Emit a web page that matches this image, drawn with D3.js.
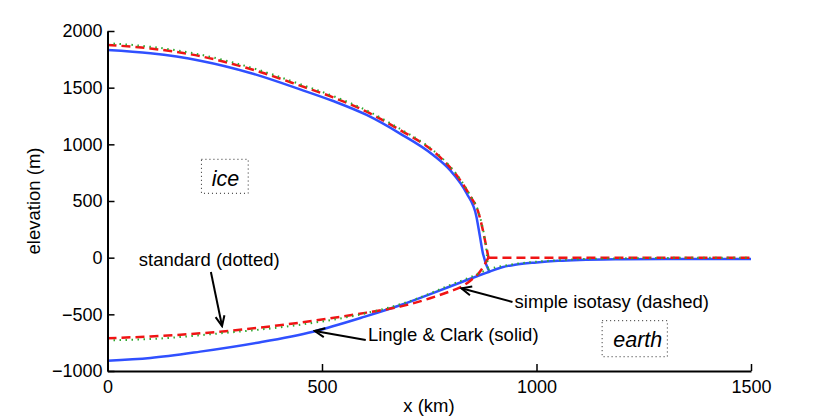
<!DOCTYPE html>
<html>
<head>
<meta charset="utf-8">
<script src="https://cdn.jsdelivr.net/npm/d3@7"></script>
<style>
body { margin: 0; background: #fff; }
text { font-family: "Liberation Sans", Arial, Helvetica, sans-serif; }
</style>
</head>
<body>
<script>
// Lingle & Clark (solid blue)
var lcSurfaceKm = [0, 100, 216, 333, 449, 526, 604, 681, 759, 798, 837, 860, 868, 875, 890]
var lcSurfaceM = [1832, 1803, 1738, 1630, 1485, 1382, 1259, 1097, 906, 774, 568, 362, 190, 40, -124]
var lcBedKm = [0, 100, 216, 350, 479, 600, 682, 760, 829, 890, 920, 950, 1000, 1050, 1100, 1200, 1300, 1500]
var lcBedM = [-909, -885, -829, -750, -653, -520, -420, -310, -210, -124, -85, -62, -42, -28, -20, -14, -12, -11]

// simple isotasy (dashed red)
var isoSurfaceKm = [0, 100, 216, 333, 449, 526, 604, 681, 759, 790, 821, 844, 864, 883, 888]
var isoSurfaceM = [1877, 1846, 1778, 1665, 1518, 1414, 1288, 1128, 940, 832, 690, 553, 406, 97, 0]
var isoBedKm = [0, 100, 262, 449, 604, 682, 752, 800, 822, 845, 868, 880, 888]
var isoBedM = [-711, -695, -653, -573, -485, -432, -358, -295, -262, -205, -124, -55, 0]
var isoFloatKm = [888, 1500]
var isoFloatM = [0, 0]

// standard (dotted green)
var stdSurfaceKm = [0, 100, 216, 333, 449, 526, 604, 681, 759, 790, 821, 844, 864, 880, 884, 887]
var stdSurfaceM = [1893, 1861, 1792, 1679, 1531, 1426, 1299, 1138, 948, 840, 698, 560, 412, 150, 40, -105]
var stdBedKm = [0, 100, 262, 449, 600, 700, 800, 850, 887, 945, 1000, 1100, 1200, 1300, 1500]
var stdBedM = [-730, -718, -668, -592, -492, -390, -240, -165, -105, -58, -36, -14, -6, -2, 0]

var xTicks = [0, 500, 1000, 1500]
var yTicks = [-1000, -500, 0, 500, 1000, 1500, 2000]

// annotations, in km / m
var noteTexts = ["standard (dotted)", "Lingle & Clark (solid)", "simple isotasy (dashed)"]
var noteKm = [73, 607, 949]
var noteM = [-74, -735, -444]
var arrowFromKm = [241, 602, 944]
var arrowFromM = [-126, -726, -391]
var arrowToKm = [267, 483, 825]
var arrowToM = [-603, -647, -270]

var regionTexts = ["ice", "earth"]
var regionKm = [275, 1236]
var regionM = [633, -785]
var regionBoxKm = [[219, 328], [1153, 1305]]
var regionBoxM = [[868, 568], [-556, -874]]

var w = 830
var h = 420

var xScale = d3.scaleLinear().domain([0, 1500]).range([107.5, 751])
var yScale = d3.scaleLinear().domain([-1000, 2000]).range([371, 31])

var svg = d3.select("body")
	.append("svg")
	.attr("width", w)
	.attr("height", h)

function zip(km, m) {
	return km.map((d, i) => [d, m[i]])
}

var line = d3.line()
	.x((d) => xScale(d[0]))
	.y((d) => yScale(d[1]))
	.curve(d3.curveMonotoneX)

var blue = "#3050ff"
var red = "#f01414"
var green = "#2fa82f"

function drawLine(km, m, color, width, dash) {
	svg.append("path")
		.datum(zip(km, m))
		.attr("d", line)
		.attr("fill", "none")
		.attr("stroke", color)
		.attr("stroke-width", width)
		.attr("stroke-dasharray", dash)
		.attr("stroke-linejoin", "round")
}

drawLine(lcSurfaceKm, lcSurfaceM, blue, 2.5, null)
drawLine(lcBedKm, lcBedM, blue, 2.5, null)
drawLine(isoSurfaceKm, isoSurfaceM, red, 2.5, "9,5")
drawLine(isoBedKm, isoBedM, red, 2.5, "9,5")
drawLine(isoFloatKm, isoFloatM, red, 2.5, "9,5")
drawLine(stdSurfaceKm, stdSurfaceM, green, 2, "1.5,4.5")
drawLine(stdBedKm, stdBedM, green, 2, "1.5,4.5")

// Axes
var fmt = d3.format("d")
var xAxis = d3.axisBottom(xScale).tickValues(xTicks).tickFormat(fmt)
	.tickSizeInner(-7).tickSizeOuter(0).tickPadding(9)
var yAxis = d3.axisLeft(yScale).tickValues(yTicks).tickFormat(fmt)
	.tickSizeInner(-7).tickSizeOuter(0).tickPadding(5)

svg.append("g")
	.attr("transform", "translate(0," + 371 + ")")
	.call(xAxis)
	.attr("font-size", 18)
	.attr("font-family", null)

svg.append("g")
	.attr("transform", "translate(" + 107.5 + ",0)")
	.call(yAxis)
	.attr("font-size", 18)
	.attr("font-family", null)

svg.selectAll(".domain").attr("stroke-width", 2)
svg.selectAll(".tick line").attr("stroke-width", 1.5)

svg.append("text")
	.attr("x", 429)
	.attr("y", 412)
	.attr("text-anchor", "middle")
	.attr("font-size", 18.5)
	.text("x (km)")

svg.append("text")
	.attr("transform", "translate(40,201) rotate(-90)")
	.attr("text-anchor", "middle")
	.attr("font-size", 18.5)
	.text("elevation (m)")

// Arrows
svg.append("defs").append("marker")
	.attr("id", "head")
	.attr("viewBox", "-12 -6 14 12")
	.attr("refX", 0)
	.attr("refY", 0)
	.attr("markerWidth", 14)
	.attr("markerHeight", 12)
	.attr("markerUnits", "userSpaceOnUse")
	.attr("orient", "auto")
	.append("path")
	.attr("d", "M-10,-4.5 L0,0 L-10,4.5")
	.attr("fill", "none")
	.attr("stroke", "black")
	.attr("stroke-width", 2)

svg.selectAll(".arrow")
	.data(noteTexts)
	.enter().append("line")
	.attr("class", "arrow")
	.attr("x1", (d, i) => xScale(arrowFromKm[i]))
	.attr("y1", (d, i) => yScale(arrowFromM[i]))
	.attr("x2", (d, i) => xScale(arrowToKm[i]))
	.attr("y2", (d, i) => yScale(arrowToM[i]))
	.attr("stroke", "black")
	.attr("stroke-width", 2)
	.attr("marker-end", "url(#head)")

svg.selectAll(".note")
	.data(noteTexts)
	.enter().append("text")
	.attr("class", "note")
	.attr("x", (d, i) => xScale(noteKm[i]))
	.attr("y", (d, i) => yScale(noteM[i]))
	.attr("font-size", 18.5)
	.text((d) => d)

// ice / earth boxes
svg.selectAll(".box")
	.data(regionTexts)
	.enter().append("rect")
	.attr("class", "box")
	.attr("x", (d, i) => xScale(regionBoxKm[i][0]))
	.attr("y", (d, i) => yScale(regionBoxM[i][0]))
	.attr("width", (d, i) => xScale(regionBoxKm[i][1]) - xScale(regionBoxKm[i][0]))
	.attr("height", (d, i) => yScale(regionBoxM[i][1]) - yScale(regionBoxM[i][0]))
	.attr("fill", "none")
	.attr("stroke", "#222")
	.attr("stroke-width", 1)
	.attr("stroke-dasharray", "1,3")

svg.selectAll(".region")
	.data(regionTexts)
	.enter().append("text")
	.attr("class", "region")
	.attr("x", (d, i) => xScale(regionKm[i]))
	.attr("y", (d, i) => yScale(regionM[i]))
	.attr("text-anchor", "middle")
	.attr("font-size", 21.5)
	.attr("font-style", "italic")
	.text((d) => d)
</script>
</body>
</html>
